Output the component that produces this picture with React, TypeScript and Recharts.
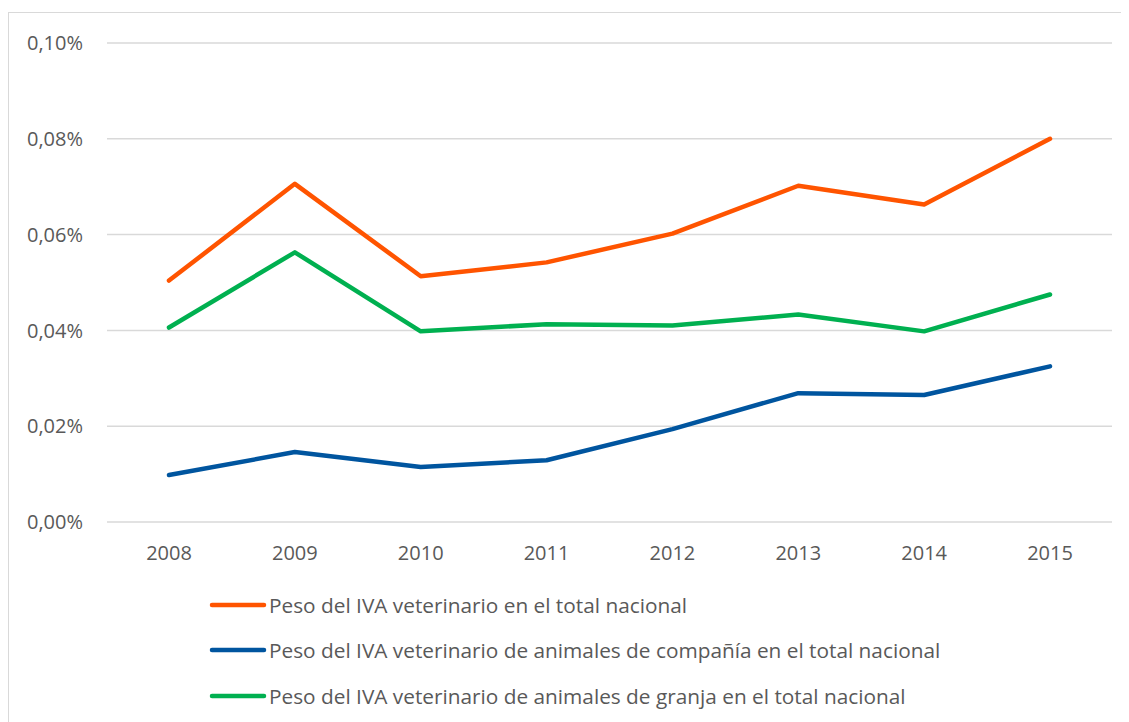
import React from 'react';
import { LineChart, Line, XAxis, YAxis, CartesianGrid } from 'recharts';

const years = ['2008', '2009', '2010', '2011', '2012', '2013', '2014', '2015'];
const totalNacional = [0.0504, 0.0706, 0.0513, 0.0542, 0.0602, 0.0702, 0.0663, 0.0800];
const companiaNacional = [0.0098, 0.0146, 0.0115, 0.0129, 0.0194, 0.0269, 0.0265, 0.0325];
const granjaNacional = [0.0406, 0.0563, 0.0398, 0.0413, 0.0410, 0.0433, 0.0398, 0.0475];
const yTicks = [0, 0.02, 0.04, 0.06, 0.08, 0.10];

const seriesNames = [
  'Peso del IVA veterinario en el total nacional',
  'Peso del IVA veterinario de animales de compañía en el total nacional',
  'Peso del IVA veterinario de animales de granja en el total nacional',
];
const colors = ['#FF5400', '#00559F', '#00B050'];

const data = years.map((y, i) => ({
  year: y,
  total: totalNacional[i],
  compania: companiaNacional[i],
  granja: granjaNacional[i],
}));

const FONT = '"Open Sans", sans-serif';
const TEXT = '#595959';

const fmt = (v: number) => v.toFixed(2).replace('.', ',') + '%';

const LegendBlock = () => (
  <div style={{ position: 'absolute', left: 200, top: 569, fontFamily: FONT, fontSize: 20.8, color: TEXT }}>
    {seriesNames.map((n, i) => (
      <div key={n} style={{ display: 'flex', alignItems: 'center', height: 45.5, whiteSpace: 'nowrap' }}>
        <svg width={58} height={10} style={{ marginRight: 2 }}>
          <line x1={3} y1={5} x2={55} y2={5} stroke={colors[i]} strokeWidth={4.5} strokeLinecap="round" />
        </svg>
        <span>{n}</span>
      </div>
    ))}
  </div>
);

export default function App() {
  return (
    <div
      style={{
        position: 'relative',
        marginTop: 4,
        width: 1121,
        height: 709,
        borderTop: '1.5px solid #d9d9d9',
        borderLeft: '1.5px solid #d9d9d9',
        overflow: 'hidden',
        background: '#fff',
      }}
    >
      <LineChart width={1120} height={708} data={data} margin={{ top: 30, right: 17, left: 18, bottom: 169 }}>
        <CartesianGrid vertical={false} stroke="#d9d9d9" strokeWidth={1.5} />
        <XAxis
          dataKey="year"
          axisLine={false}
          tickLine={false}
          tick={{ fill: TEXT, fontFamily: FONT, fontSize: 20 }}
          tickMargin={18}
          height={30}
          padding={{ left: 62, right: 62 }}
        />
        <YAxis
          domain={[0, 0.1]}
          ticks={yTicks}
          tickFormatter={fmt}
          axisLine={false}
          tickLine={false}
          tickSize={0}
          tickMargin={24}
          width={80}
          tick={{ fill: TEXT, fontFamily: FONT, fontSize: 20 }}
        />
        <Line dataKey="total" stroke={colors[0]} strokeWidth={4.5} dot={false} isAnimationActive={false} strokeLinecap="round" strokeLinejoin="round" />
        <Line dataKey="compania" stroke={colors[1]} strokeWidth={4.5} dot={false} isAnimationActive={false} strokeLinecap="round" strokeLinejoin="round" />
        <Line dataKey="granja" stroke={colors[2]} strokeWidth={4.5} dot={false} isAnimationActive={false} strokeLinecap="round" strokeLinejoin="round" />
      </LineChart>
      <LegendBlock />
    </div>
  );
}
